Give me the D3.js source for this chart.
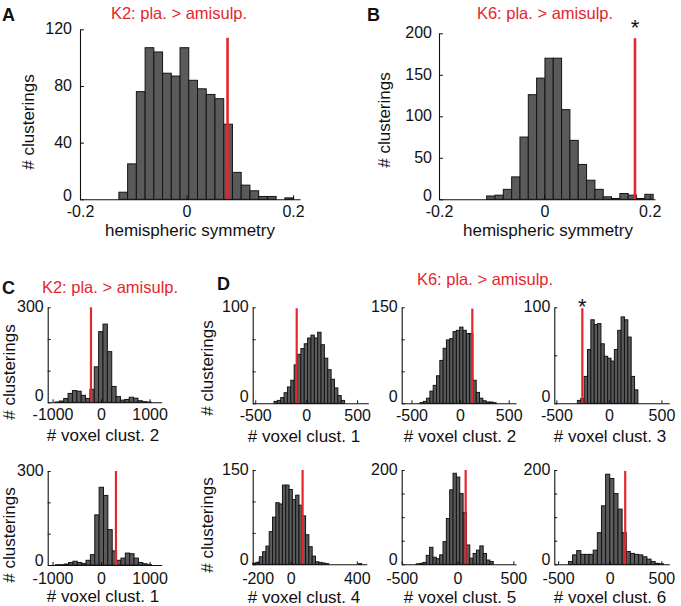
<!DOCTYPE html>
<html><head><meta charset="utf-8">
<script src="https://cdn.jsdelivr.net/npm/d3@7"></script>
<style>html,body{margin:0;padding:0;background:#fff}</style>
</head><body>
<svg id="c" width="681" height="606"></svg>
<script>
// ---------- DATA ----------
const titleK2 = "K2: pla. > amisulp.";
const titleK6 = "K6: pla. > amisulp.";
const yLabel = "# clusterings";
const xLabelAB = "hemispheric symmetry";
const xLabelsVoxel = ["# voxel clust. 1","# voxel clust. 2","# voxel clust. 3","# voxel clust. 4","# voxel clust. 5","# voxel clust. 6"];

const xTicksAB = [-0.2, 0, 0.2];
const xTicksC = [-1000, 0, 1000];
const xTicksD = [-500, 0, 500];
const xTicksD4 = [-200, 0, 400];

const yTicksA = [0, 40, 80, 120];
const yTicksB = [0, 50, 100, 150, 200];

// Panel A: hemispheric symmetry, K2
const countsA = [5, 25, 76, 107, 104, 89, 87, 107, 84, 78, 74, 71, 53, 19, 10, 6, 2, 2, 0, 1];
const binStartA = -0.127, binWidthA = 0.0164;
const redA = 0.077, redTopA = 114;

// Panel B: hemispheric symmetry, K6
const countsB = [4, 5, 12, 27, 75, 126, 146, 170, 170, 108, 71, 42, 23, 12, 3, 1, 7, 5, 1, 6];
const binStartB = -0.1095, binWidthB = 0.0158;
const redB = 0.172, redTopB = 194;

// Panel C (K2): cluster 2 (top) and cluster 1 (bottom)
const countsC2 = [1, 4, 12, 28, 37, 35, 22, 12, 41, 112, 223, 247, 160, 50, 18, 7, 9, 16, 13, 5, 2, 1];
const binStartC2 = -950, binWidthC2 = 90, redC2 = -208;
const countsC1 = [1, 1, 3, 8, 12, 8, 5, 15, 33, 160, 248, 222, 113, 45, 15, 22, 38, 36, 22, 8, 4, 1];
const binStartC1 = -940, binWidthC1 = 90, redC1 = 307;

// Panel D (K6): clusters 1..6
const countsD1 = [2, 3, 6, 11, 17, 24, 40, 51, 57, 62, 68, 71, 68, 74, 61, 47, 35, 25, 16, 8, 3];
const binStartD1 = -316, binWidthD1 = 33, redD1 = -93;
const countsD2 = [1, 3, 8, 19, 28, 43, 67, 86, 99, 101, 112, 114, 119, 114, 109, 109, 36, 17, 8, 4, 2, 2, 1];
const binStartD2 = -412, binWidthD2 = 34, redD2 = 126;
const countsD3 = [3, 5, 28, 56, 87, 82, 83, 62, 49, 47, 44, 56, 76, 90, 87, 69, 28, 14];
const binStartD3 = -300, binWidthD3 = 32, redD3 = -253;
const countsD4 = [2, 3, 12, 20, 29, 52, 75, 98, 96, 126, 126, 119, 103, 110, 94, 77, 47, 28, 13, 4, 3, 2, 1, 0, 0, 0, 0, 0, 0, 0, 0, 0, 1];
const binStartD4 = -230, binWidthD4 = 20, redD4 = 72;
const countsD5 = [1, 2, 4, 19, 36, 15, 12, 20, 48, 97, 158, 193, 185, 150, 110, 41, 13, 23, 30, 39, 23, 9, 6];
const binStartD5 = -370, binWidthD5 = 30, redD5 = 73;
const countsD6 = [6, 20, 29, 21, 21, 21, 30, 67, 124, 191, 182, 150, 117, 67, 27, 23, 21, 20, 16, 11, 6, 2, 1];
const binStartD6 = -400, binWidthD6 = 40, redD6 = 150;

// ---------- DRAW ----------
const FONT = "'Liberation Sans', Arial, Helvetica, sans-serif";
const RED = "#e4262d";
const svg = d3.select("#c");
svg.append("rect").attr("width",681).attr("height",606).attr("fill","#fff");

function panel(o) {
  const x = d3.scaleLinear().domain(o.xDomain).range([o.x0, o.x1]);
  const y = d3.scaleLinear().domain([0, o.yMax]).range([o.yBottom, o.yTop]);
  const g = svg.append("g");
  // bars
  g.selectAll("rect.bar").data(o.counts.map((c, i) => ({c, i})).filter(d => d.c > 0))
    .join("rect").attr("class","bar")
    .attr("x", d => x(o.start + d.i * o.width))
    .attr("width", d => x(o.start + (d.i + 1) * o.width) - x(o.start + d.i * o.width))
    .attr("y", d => y(d.c))
    .attr("height", d => y(0) - y(d.c))
    .attr("fill", "#5a5a5c").attr("stroke", "#141414").attr("stroke-width", 1);
  // red line
  g.append("line").attr("x1", x(o.red)).attr("x2", x(o.red))
    .attr("y1", y(0)).attr("y2", y(o.redTop))
    .attr("stroke", RED).attr("stroke-width", o.redW);
  // axes
  const tl = o.tick;
  const yAll = o.yTicks.concat(o.yMinor || []);
  const ay = g.append("g").attr("transform", `translate(${o.x0},0)`)
    .call(d3.axisLeft(y).tickValues(yAll).tickSize(-tl).tickSizeOuter(0).tickPadding(o.yPad)
      .tickFormat(v => o.yTicks.includes(v) ? String(v) : ""));
  ay.selectAll(".tick text").attr("y", v => v === 0 ? o.zeroShift : -0.5);
  const ax = g.append("g").attr("transform", `translate(0,${o.yBottom})`)
    .call(d3.axisBottom(x).tickValues(o.xTicks).tickSize(-tl).tickSizeOuter(0).tickPadding(o.xPad)
      .tickFormat(o.fmt));
  [ay, ax].forEach(a => {
    a.attr("font-family", FONT).attr("font-size", 16);
    a.selectAll("path.domain").attr("stroke", "#111").attr("stroke-width", 1.1);
    a.selectAll(".tick line").attr("stroke", "#111");
    a.selectAll("text").attr("fill", "#111");
  });
  // axis labels
  if (o.yLab) {
    g.append("text").attr("transform", `translate(${o.yLab[0]},${o.yLab[1]}) rotate(-90)`)
      .attr("text-anchor","middle").attr("font-family", FONT).attr("font-size", 17).attr("fill","#111")
      .text(yLabel);
  }
  g.append("text").attr("x", o.xLab[0]).attr("y", o.xLab[1]).attr("text-anchor","middle")
    .attr("font-family", FONT).attr("font-size", 17).attr("fill","#111").text(o.xLabText);
  if (o.star) {
    g.append("text").attr("x", x(o.red)).attr("y", o.star).attr("text-anchor","middle")
      .attr("font-family", FONT).attr("font-size", 22).attr("fill","#111").text("*");
  }
}

const fmtAB = v => v === 0 ? "0" : (v < 0 ? "-" : "") + d3.format(".1f")(Math.abs(v));
const fmtInt = v => String(v);

// A
panel({counts: countsA, start: binStartA, width: binWidthA, red: redA, redTop: redTopA, redW: 2.6,
  xDomain: [-0.2, 0.213], x0: 80, x1: 300, yMax: 120, yBottom: 199.3, yTop: 29.3,
  yTicks: yTicksA, xTicks: xTicksAB, fmt: fmtAB, tick: 4, yPad: 8, xPad: 6, zeroShift: -4,
  yLab: [34, 122], xLab: [190, 236], xLabText: xLabelAB});
// B
panel({counts: countsB, start: binStartB, width: binWidthB, red: redB, redTop: redTopB, redW: 2.6,
  xDomain: [-0.2, 0.21], x0: 439, x1: 655, yMax: 200, yBottom: 199.3, yTop: 33.3,
  yTicks: yTicksB, xTicks: xTicksAB, fmt: fmtAB, tick: 4, yPad: 7, xPad: 6, zeroShift: -4,
  yLab: [390, 120], xLab: [548, 236], xLabText: xLabelAB, star: 35});
// C top (cluster 2)
panel({counts: countsC2, start: binStartC2, width: binWidthC2, red: redC2, redTop: 300, redW: 2.2,
  xDomain: [-1100, 1250], x0: 47.7, x1: 161.7, yMax: 300, yBottom: 402.3, yTop: 307.3,
  yTicks: [0, 300], yMinor: [100, 200], xTicks: xTicksC, fmt: fmtInt, tick: 3, yPad: 4, xPad: 6.5, zeroShift: -6.5,
  yLab: [15, 372], xLab: [103, 441], xLabText: xLabelsVoxel[1]});
// C bottom (cluster 1)
panel({counts: countsC1, start: binStartC1, width: binWidthC1, red: redC1, redTop: 300, redW: 2.2,
  xDomain: [-1100, 1250], x0: 47.7, x1: 161.7, yMax: 300, yBottom: 565, yTop: 471,
  yTicks: [0, 300], yMinor: [100, 200], xTicks: xTicksC, fmt: fmtInt, tick: 3, yPad: 4, xPad: 8, zeroShift: -5,
  yLab: [15, 535], xLab: [103, 602], xLabText: xLabelsVoxel[0]});
// D1
panel({counts: countsD1, start: binStartD1, width: binWidthD1, red: redD1, redTop: 99, redW: 2.2,
  xDomain: [-525, 610], x0: 252.7, x1: 368.3, yMax: 100, yBottom: 403.3, yTop: 307.3,
  yTicks: [0, 100], yMinor: [33.3, 66.7], xTicks: xTicksD, fmt: fmtInt, tick: 3, yPad: 4, xPad: 6.5, zeroShift: -6.5,
  yLab: [213, 368], xLab: [304, 441.5], xLabText: xLabelsVoxel[0]});
// D2
panel({counts: countsD2, start: binStartD2, width: binWidthD2, red: redD2, redTop: 148, redW: 2.2,
  xDomain: [-600, 575], x0: 401.7, x1: 516, yMax: 150, yBottom: 403.3, yTop: 307.3,
  yTicks: [0, 150], yMinor: [50, 100], xTicks: xTicksD, fmt: fmtInt, tick: 3, yPad: 4, xPad: 6.5, zeroShift: -6.5,
  xLab: [460, 441.5], xLabText: xLabelsVoxel[1]});
// D3
panel({counts: countsD3, start: binStartD3, width: binWidthD3, red: redD3, redTop: 99, redW: 2.2,
  xDomain: [-520, 575], x0: 554.3, x1: 669.3, yMax: 100, yBottom: 403.3, yTop: 307.3,
  yTicks: [0, 100], yMinor: [50], xTicks: xTicksD, fmt: fmtInt, tick: 3, yPad: 4, xPad: 6.5, zeroShift: -6.5,
  xLab: [610, 441.5], xLabText: xLabelsVoxel[2], star: 314});
// D4
panel({counts: countsD4, start: binStartD4, width: binWidthD4, red: redD4, redTop: 150, redW: 2.2,
  xDomain: [-230, 460], x0: 252.7, x1: 366.7, yMax: 150, yBottom: 564.3, yTop: 470,
  yTicks: [0, 150], yMinor: [50, 100], xTicks: xTicksD4, fmt: fmtInt, tick: 3, yPad: 4, xPad: 8.5, zeroShift: -5,
  yLab: [213, 525], xLab: [304, 603], xLabText: xLabelsVoxel[3]});
// D5
panel({counts: countsD5, start: binStartD5, width: binWidthD5, red: redD5, redTop: 200, redW: 2.2,
  xDomain: [-500, 524], x0: 401.7, x1: 516, yMax: 200, yBottom: 564.3, yTop: 470,
  yTicks: [0, 200], yMinor: [50, 100, 150], xTicks: xTicksD, fmt: fmtInt, tick: 3, yPad: 4, xPad: 8.5, zeroShift: -5,
  xLab: [460, 603], xLabText: xLabelsVoxel[4]});
// D6
panel({counts: countsD6, start: binStartD6, width: binWidthD6, red: redD6, redTop: 198, redW: 2.2,
  xDomain: [-537, 577], x0: 554.3, x1: 669.3, yMax: 200, yBottom: 564.3, yTop: 470,
  yTicks: [0, 200], yMinor: [50, 100, 150], xTicks: xTicksD, fmt: fmtInt, tick: 3, yPad: 4, xPad: 8.5, zeroShift: -5,
  xLab: [610, 603], xLabText: xLabelsVoxel[5]});

// titles and panel letters
function txt(x, y, s, size, weight, fill, anchor) {
  svg.append("text").attr("x", x).attr("y", y).attr("font-family", FONT).attr("font-size", size)
    .attr("font-weight", weight).attr("fill", fill).attr("text-anchor", anchor).text(s);
}
txt(179, 18.5, titleK2, 16.5, "normal", RED, "middle");
txt(545, 18.5, titleK6, 16.5, "normal", RED, "middle");
txt(110, 293, titleK2, 16.5, "normal", RED, "middle");
txt(485, 285, titleK6, 16.5, "normal", RED, "middle");
txt(2, 20.5, "A", 18, "bold", "#111", "start");
txt(367, 20.5, "B", 18, "bold", "#111", "start");
txt(2, 293.5, "C", 18, "bold", "#111", "start");
txt(217, 290, "D", 18, "bold", "#111", "start");
</script>
</body></html>
